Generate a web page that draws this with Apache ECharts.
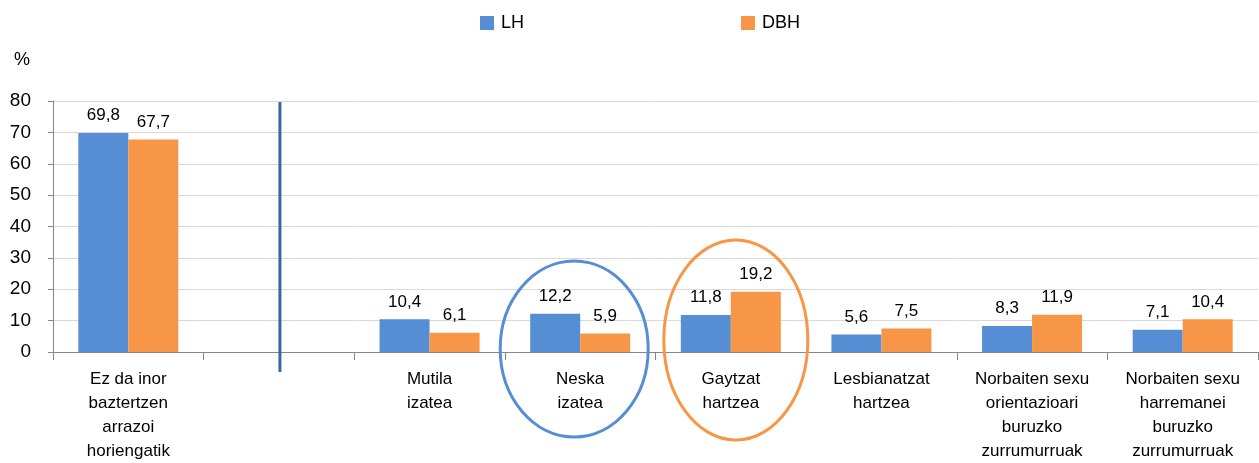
<!DOCTYPE html>
<html>
<head>
<meta charset="utf-8">
<script src="https://cdn.jsdelivr.net/npm/echarts@6/dist/echarts.min.js"></script>
<style>
  html, body { margin: 0; padding: 0; background: #fff; }
  #chart { width: 1259px; height: 463px; }
</style>
</head>
<body>
<div id="chart"></div>
<script>
// categories (second one is empty, it holds the separator line)
const categories = [
  'Ez da inor\nbaztertzen\narrazoi\nhoriengatik',
  '',
  'Mutila\nizatea',
  'Neska\nizatea',
  'Gaytzat\nhartzea',
  'Lesbianatzat\nhartzea',
  'Norbaiten sexu\norientazioari\nburuzko\nzurrumurruak',
  'Norbaiten sexu\nharremanei\nburuzko\nzurrumurruak'
]
const lhValues = [69.8, null, 10.4, 12.2, 11.8, 5.6, 8.3, 7.1]
const dbhValues = [67.7, null, 6.1, 5.9, 19.2, 7.5, 11.9, 10.4]
const yTicks = [0, 10, 20, 30, 40, 50, 60, 70, 80]

const BLUE = '#558ed5'
const ORANGE = '#f79646'
const FONT = 'Liberation Sans'

const chart = echarts.init(document.getElementById('chart'))

const fmt = p => p.value == null ? '' : String(p.value).replace('.', ',')

chart.setOption({
  animation: false,
  textStyle: { fontFamily: FONT },
  legend: {
    data: ['LH', 'DBH'],
    top: 14,
    left: 480,
    itemGap: 217,
    itemWidth: 14,
    itemHeight: 14,
    padding: 0,
    icon: 'rect',
    textStyle: { fontSize: 18, color: '#000', fontFamily: FONT, padding: [0, 0, 0, 2] }
  },
  grid: { left: 53, right: 1, top: 101, bottom: 110, containLabel: false },
  xAxis: {
    type: 'category',
    data: categories,
    axisLine: { lineStyle: { color: '#868686' } },
    axisTick: { show: true, length: 8, lineStyle: { color: '#868686' } },
    axisLabel: {
      interval: 0,
      color: '#000',
      fontSize: 17,
      lineHeight: 24,
      margin: 15,
      fontFamily: FONT
    }
  },
  yAxis: {
    type: 'value',
    name: '%',
    nameLocation: 'end',
    nameGap: 32,
    nameTextStyle: { fontSize: 18, color: '#000', align: 'right', padding: [0, 23, 0, 0] },
    min: yTicks[0],
    max: yTicks[yTicks.length - 1],
    interval: 10,
    axisLine: { show: true, lineStyle: { color: '#868686' } },
    axisTick: { show: true, length: 5, lineStyle: { color: '#868686' } },
    axisLabel: { color: '#000', fontSize: 19, margin: 22, align: 'right', fontFamily: FONT },
    splitLine: { lineStyle: { color: '#d9d9d9', width: 1 } }
  },
  series: [
    {
      name: 'LH',
      type: 'bar',
      data: lhValues,
      barWidth: 50,
      barGap: '0%',
      itemStyle: { color: BLUE },
      label: { show: true, position: 'top', distance: 9, color: '#000', fontSize: 17, formatter: fmt }
    },
    {
      name: 'DBH',
      type: 'bar',
      data: dbhValues,
      barWidth: 50,
      barGap: '0%',
      itemStyle: { color: ORANGE },
      label: { show: true, position: 'top', distance: 9, color: '#000', fontSize: 17, formatter: fmt }
    }
  ]
})

// separator line and highlight ellipses, placed from the axis scale
function drawAnnotations() {
  const sep = chart.convertToPixel({ xAxisIndex: 0, yAxisIndex: 0 }, [1, 80])
  const base = chart.convertToPixel({ xAxisIndex: 0, yAxisIndex: 0 }, [1, 0])
  const neska = chart.convertToPixel({ xAxisIndex: 0, yAxisIndex: 0 }, [3, 0])
  const gay = chart.convertToPixel({ xAxisIndex: 0, yAxisIndex: 0 }, [4, 0])
  chart.setOption({
    graphic: [
      {
        type: 'line',
        shape: { x1: sep[0] + 1, y1: sep[1] + 1, x2: sep[0] + 1, y2: base[1] + 20 },
        style: { stroke: '#3a679e', lineWidth: 3 },
        z: 10
      },
      {
        type: 'ellipse',
        shape: { cx: neska[0] - 6, cy: base[1] - 3, rx: 74, ry: 88 },
        style: { fill: 'none', stroke: BLUE, lineWidth: 3 },
        z: 10
      },
      {
        type: 'ellipse',
        shape: { cx: gay[0] + 5, cy: base[1] - 12, rx: 72, ry: 100 },
        style: { fill: 'none', stroke: ORANGE, lineWidth: 3 },
        z: 10
      }
    ]
  })
}
drawAnnotations()
</script>
</body>
</html>
